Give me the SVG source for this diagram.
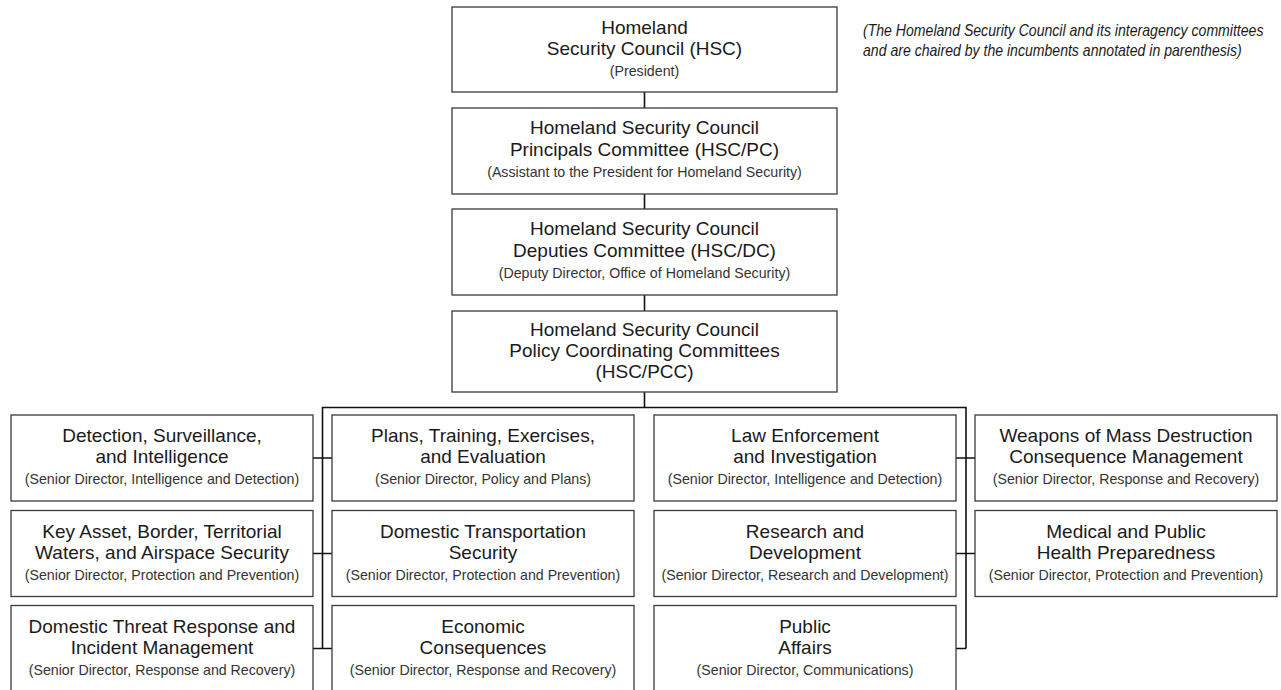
<svg xmlns="http://www.w3.org/2000/svg" width="1281" height="690" viewBox="0 0 1281 690">
<style>
.box{fill:#fff;stroke:#3a3a3a;stroke-width:1.3}
.t{font-family:"Liberation Sans",Arial,sans-serif;font-size:19px;fill:#1a1a1a;text-anchor:middle}
.s{font-family:"Liberation Sans",Arial,sans-serif;font-size:14.2px;fill:#333;text-anchor:middle}
.n{font-family:"Liberation Sans",Arial,sans-serif;font-size:16px;font-style:italic;fill:#1a1a1a}
.c{fill:none;stroke:#111;stroke-width:1.6}
</style>
<rect width="1281" height="690" fill="#fff"/>
<g id="connectors">
<path class="c" d="M644.5 92V108M644.5 194V209M644.5 295V311M644.5 392V407.5"/>
<path class="c" d="M322.5 648.5V407.5H966V648.5"/>
<path class="c" d="M313 458H332M313 553.5H332M313 648.5H332"/>
<path class="c" d="M956 458H975M956 553.5H975M956 648.5H966"/>
</g>
<g id="note" transform="translate(863 0) scale(0.88 1)">
<text class="n" x="0" y="36">(The Homeland Security Council and its interagency committees</text>
<text class="n" x="0" y="56">and are chaired by the incumbents annotated in parenthesis)</text>
</g>
<g id="hsc">
<rect class="box" x="452" y="7" width="385" height="85"/>
<text class="t" x="644.5" y="34">Homeland</text>
<text class="t" x="644.5" y="55">Security Council (HSC)</text>
<text class="s" x="644.5" y="76">(President)</text>
</g>
<g id="hsc-pc">
<rect class="box" x="452" y="108" width="385" height="86"/>
<text class="t" x="644.5" y="134">Homeland Security Council</text>
<text class="t" x="644.5" y="156">Principals Committee (HSC/PC)</text>
<text class="s" x="644.5" y="177">(Assistant to the President for Homeland Security)</text>
</g>
<g id="hsc-dc">
<rect class="box" x="452" y="209" width="385" height="86"/>
<text class="t" x="644.5" y="235">Homeland Security Council</text>
<text class="t" x="644.5" y="257">Deputies Committee (HSC/DC)</text>
<text class="s" x="644.5" y="278">(Deputy Director, Office of Homeland Security)</text>
</g>
<g id="hsc-pcc">
<rect class="box" x="452" y="311" width="385" height="81"/>
<text class="t" x="644.5" y="336">Homeland Security Council</text>
<text class="t" x="644.5" y="357">Policy Coordinating Committees</text>
<text class="t" x="644.5" y="378">(HSC/PCC)</text>
</g>
<g id="detection">
<rect class="box" x="11" y="415" width="302" height="86"/>
<text class="t" x="162" y="442">Detection, Surveillance,</text>
<text class="t" x="162" y="463">and Intelligence</text>
<text class="s" x="162" y="484">(Senior Director, Intelligence and Detection)</text>
</g>
<g id="plans">
<rect class="box" x="332" y="415" width="302" height="86"/>
<text class="t" x="483" y="442">Plans, Training, Exercises,</text>
<text class="t" x="483" y="463">and Evaluation</text>
<text class="s" x="483" y="484">(Senior Director, Policy and Plans)</text>
</g>
<g id="law">
<rect class="box" x="654" y="415" width="302" height="86"/>
<text class="t" x="805" y="442">Law Enforcement</text>
<text class="t" x="805" y="463">and Investigation</text>
<text class="s" x="805" y="484">(Senior Director, Intelligence and Detection)</text>
</g>
<g id="wmd">
<rect class="box" x="975" y="415" width="302" height="86"/>
<text class="t" x="1126" y="442">Weapons of Mass Destruction</text>
<text class="t" x="1126" y="463">Consequence Management</text>
<text class="s" x="1126" y="484">(Senior Director, Response and Recovery)</text>
</g>
<g id="key-asset">
<rect class="box" x="11" y="510.5" width="302" height="86"/>
<text class="t" x="162" y="537.5">Key Asset, Border, Territorial</text>
<text class="t" x="162" y="558.5">Waters, and Airspace Security</text>
<text class="s" x="162" y="579.5">(Senior Director, Protection and Prevention)</text>
</g>
<g id="transport">
<rect class="box" x="332" y="510.5" width="302" height="86"/>
<text class="t" x="483" y="537.5">Domestic Transportation</text>
<text class="t" x="483" y="558.5">Security</text>
<text class="s" x="483" y="579.5">(Senior Director, Protection and Prevention)</text>
</g>
<g id="research">
<rect class="box" x="654" y="510.5" width="302" height="86"/>
<text class="t" x="805" y="537.5">Research and</text>
<text class="t" x="805" y="558.5">Development</text>
<text class="s" x="805" y="579.5">(Senior Director, Research and Development)</text>
</g>
<g id="medical">
<rect class="box" x="975" y="510.5" width="302" height="86"/>
<text class="t" x="1126" y="537.5">Medical and Public</text>
<text class="t" x="1126" y="558.5">Health Preparedness</text>
<text class="s" x="1126" y="579.5">(Senior Director, Protection and Prevention)</text>
</g>
<g id="threat">
<rect class="box" x="11" y="605.5" width="302" height="90"/>
<text class="t" x="162" y="632.5">Domestic Threat Response and</text>
<text class="t" x="162" y="653.5">Incident Management</text>
<text class="s" x="162" y="674.5">(Senior Director, Response and Recovery)</text>
</g>
<g id="economic">
<rect class="box" x="332" y="605.5" width="302" height="90"/>
<text class="t" x="483" y="632.5">Economic</text>
<text class="t" x="483" y="653.5">Consequences</text>
<text class="s" x="483" y="674.5">(Senior Director, Response and Recovery)</text>
</g>
<g id="public-affairs">
<rect class="box" x="654" y="605.5" width="302" height="90"/>
<text class="t" x="805" y="632.5">Public</text>
<text class="t" x="805" y="653.5">Affairs</text>
<text class="s" x="805" y="674.5">(Senior Director, Communications)</text>
</g>
</svg>
